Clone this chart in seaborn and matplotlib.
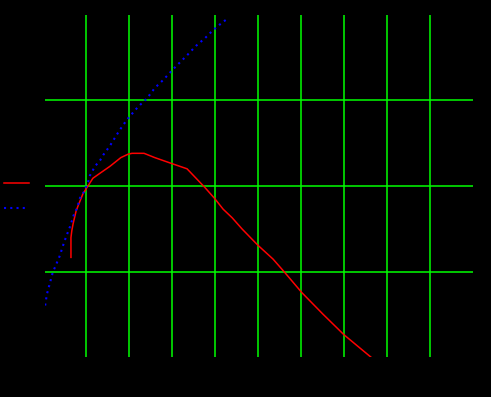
import matplotlib
matplotlib.use("Agg")
import matplotlib.pyplot as plt
import seaborn as sns
import pandas as pd

# red series (solid)
red_x = [0.65, 0.65, 0.67, 0.70, 0.77, 0.84, 0.93, 1.02, 1.16, 1.33, 1.56, 1.81, 1.98, 2.07,
         2.35, 2.60, 3.00, 3.35, 3.56, 3.77, 4.00, 4.19, 4.40, 4.63, 5.00, 5.35, 5.63, 6.02,
         6.51, 7.00, 7.65]
red_y = [1.17, 1.40, 1.48, 1.56, 1.71, 1.80, 1.91, 1.98, 2.09, 2.15, 2.23, 2.33, 2.37, 2.38,
         2.38, 2.33, 2.26, 2.20, 2.09, 1.98, 1.85, 1.73, 1.63, 1.50, 1.31, 1.15, 0.99, 0.76,
         0.51, 0.27, 0.00]

# blue series (dotted)
blue_x = [0.05, 0.09, 0.16, 0.23, 0.30, 0.40, 0.44, 0.53, 0.63, 0.72, 0.79, 0.86, 0.95, 1.05,
          1.09, 1.21, 1.33, 1.40, 1.56, 1.77, 1.95, 2.21, 2.42, 2.60, 2.79, 3.05, 3.35, 3.56,
          3.77, 3.95, 4.19, 4.28]
blue_y = [0.61, 0.74, 0.87, 1.00, 1.08, 1.20, 1.27, 1.40, 1.53, 1.67, 1.74, 1.86, 1.93, 2.05,
          2.12, 2.23, 2.30, 2.36, 2.47, 2.64, 2.77, 2.92, 3.02, 3.14, 3.23, 3.37, 3.52, 3.63,
          3.72, 3.81, 3.91, 3.94]

x_ticks = [1, 2, 3, 4, 5, 6, 7, 8, 9]
y_ticks = [1, 2, 3]

red_df = pd.DataFrame({"x": red_x, "y": red_y})
blue_df = pd.DataFrame({"x": blue_x, "y": blue_y})

fig = plt.figure(figsize=(4.91, 3.97), dpi=100, facecolor="black")
ax = fig.add_axes([45 / 491, 40 / 397, 428 / 491, 342 / 397])
ax.set_facecolor("black")

sns.lineplot(data=red_df, x="x", y="y", ax=ax, color="#ff0000", linewidth=1.1,
             sort=False, estimator=None, label="")
sns.lineplot(data=blue_df, x="x", y="y", ax=ax, color="#0000ff", linewidth=1.5,
             sort=False, estimator=None, linestyle=(0, (1, 2)), label="")

ax.set_xlim(0.0465, 10.0)
ax.set_ylim(0.0116, 342 / 86 + 0.0116)
ax.set_xticks(x_ticks)
ax.set_yticks(y_ticks)
ax.grid(True, color="#00ff00", linewidth=1.1)
ax.set_axisbelow(True)
ax.tick_params(colors="black", labelcolor="black", length=0)
ax.set_xticklabels([])
ax.set_yticklabels([])
ax.set_xlabel("")
ax.set_ylabel("")
for s in ax.spines.values():
    s.set_visible(False)

lines = ax.get_lines()[:2]
leg = ax.legend(lines, ["", ""], loc="center left",
                bbox_to_anchor=(4 / 491, (397 - 196.5) / 397),
                bbox_transform=fig.transFigure, frameon=False, borderpad=0,
                borderaxespad=0, handlelength=1.8, labelspacing=0.8, fontsize=10,
                handletextpad=0.3)

fig.savefig("out.png", dpi=100, facecolor="black")
